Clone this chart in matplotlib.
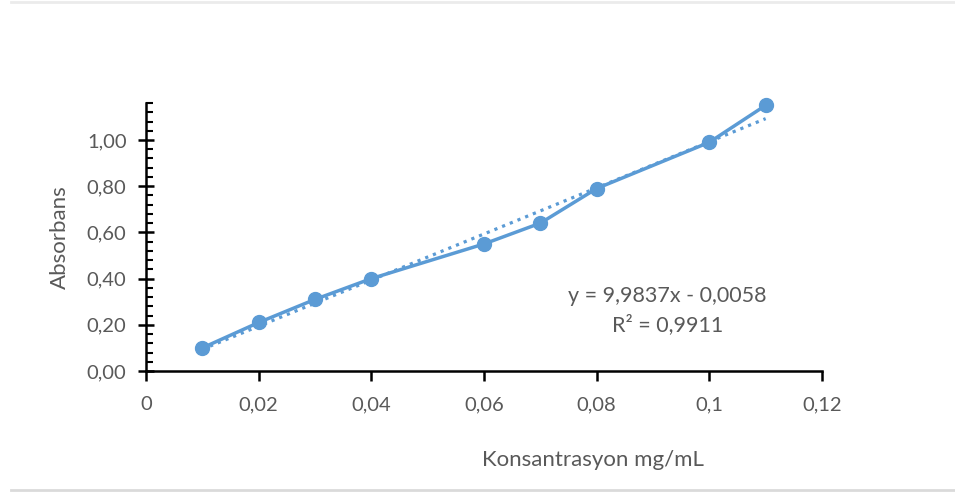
import numpy as np
import matplotlib.pyplot as plt
from matplotlib.ticker import MultipleLocator, FuncFormatter
from matplotlib.lines import Line2D

plt.rcParams['font.family'] = ['Lato', 'DejaVu Sans']

konsantrasyon = [0.01, 0.02, 0.03, 0.04, 0.06, 0.07, 0.08, 0.10, 0.11]
absorbans = [0.10, 0.21, 0.31, 0.40, 0.55, 0.64, 0.79, 0.99, 1.15]

egim = 9.9837
kesisim = -0.0058
r2 = 0.9911

mavi = '#5B9BD5'
gri = '#595959'

fig = plt.figure(figsize=(9.55, 4.97), dpi=100)
ax = fig.add_axes([0.1529, 0.2535, 0.7078, 0.5392])

ax.plot(konsantrasyon, absorbans, color=mavi, lw=2.5, marker='o', ms=10, zorder=3, clip_on=False)

tx = np.array([konsantrasyon[0], konsantrasyon[-1]])
ax.plot(tx, egim * tx + kesisim, color=mavi, lw=2.3, linestyle=(0, (1, 1.6)), zorder=2)

ax.set_xlim(0, 0.12)
ax.set_ylim(0, 1.16)
ax.xaxis.set_major_locator(MultipleLocator(0.02))
ax.yaxis.set_major_locator(MultipleLocator(0.2))
ax.yaxis.set_minor_locator(MultipleLocator(0.04))

def fmt_x(v, pos):
    if abs(v) < 1e-9:
        return '0'
    return ('%g' % round(v, 2)).replace('.', ',')

ax.xaxis.set_major_formatter(FuncFormatter(fmt_x))
ax.yaxis.set_major_formatter(FuncFormatter(lambda v, p: ('%.2f' % v).replace('.', ',')))

for s in ['top', 'right']:
    ax.spines[s].set_visible(False)
for s in ['left', 'bottom']:
    ax.spines[s].set_linewidth(1.8)
    ax.spines[s].set_color('black')

ax.tick_params(axis='x', which='major', direction='out', length=7, width=1.8,
               labelsize=14.5, labelcolor=gri, pad=11)
ax.tick_params(axis='y', which='major', direction='inout', length=12, width=1.8,
               labelsize=14.5, labelcolor=gri, pad=8)
ax.tick_params(axis='y', which='minor', direction='in', length=5, width=1.5)

fig.text(0.063, 0.523, 'Absorbans', rotation=90, ha='center', va='center',
         fontsize=16, color=gri)
fig.text(0.621, 0.074, 'Konsantrasyon mg/mL', ha='center', va='center',
         fontsize=16, color=gri)

denklem = 'y = %sx - %s' % (str(egim).replace('.', ','), ('%.4f' % abs(kesisim)).replace('.', ','))
fig.text(0.699, 0.404, denklem, ha='center', va='center', fontsize=15.5, color=gri)
fig.text(0.699, 0.346, 'R² = ' + str(r2).replace('.', ','), ha='center', va='center',
         fontsize=15.5, color=gri)

fig.add_artist(Line2D([0.012, 1.0], [0.995, 0.995], color='#EBEBEB', lw=2))
fig.add_artist(Line2D([0.012, 1.0], [0.015, 0.015], color='#DADADA', lw=2))

fig.savefig('out.png', dpi=100)
